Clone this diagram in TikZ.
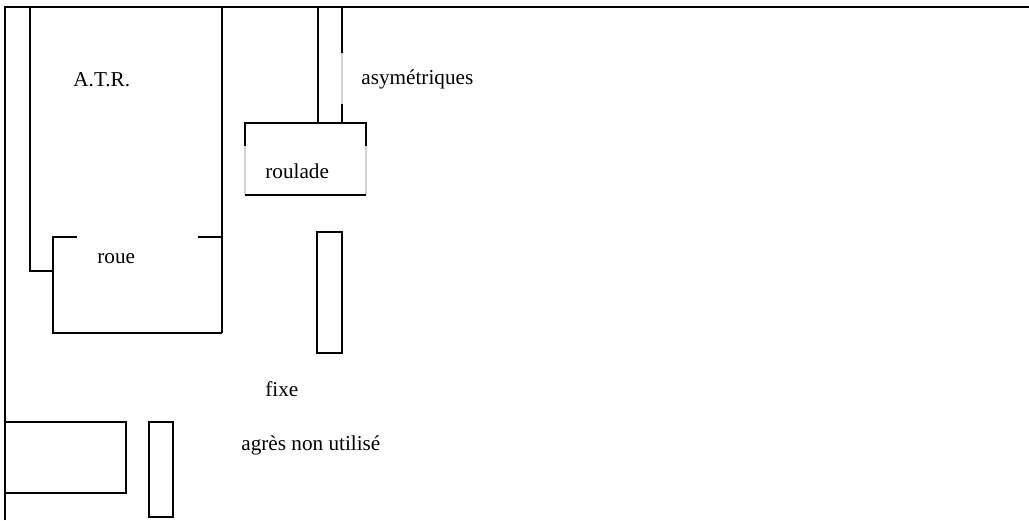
\documentclass[tikz,border=0pt]{standalone}
\usepackage{fontspec}
\setmainfont{Liberation Serif}
\begin{document}
\begin{tikzpicture}[x=0.5pt,y=-0.5pt,
  wall/.style={line width=1pt,draw=black},
  faint/.style={line width=0.6pt,draw=black!18},
  lbl/.style={font=\fontsize{10.6}{12}\selectfont,inner sep=0pt,anchor=west}]
\useasboundingbox (0,0) rectangle (1029,520);
% outer frame
\draw[wall] (5,520) -- (5,7) -- (1029,7);
% A.T.R.
\draw[wall] (30,7) -- (30,271) -- (53,271);
\draw[wall] (222,7) -- (222,333);
% roue
\draw[wall] (77,237) -- (53,237) -- (53,333) -- (222,333);
\draw[wall] (198,237) -- (222,237);
% asymetriques
\draw[wall] (318,7) -- (318,123);
\draw[wall] (342,7) -- (342,53);
\draw[faint] (342,53) -- (342,104);
\draw[wall] (342,104) -- (342,123);
% roulade
\draw[wall] (245,146) -- (245,123) -- (366,123) -- (366,146);
\draw[faint] (245,146) -- (245,195);
\draw[faint] (366,146) -- (366,195);
\draw[wall] (245,195) -- (366,195);
% fixe
\draw[wall] (317,232) rectangle (342,353);
% bottom
\draw[wall] (5,422) rectangle (126,493);
\draw[wall] (149,422) rectangle (173,517);
% labels
\node[lbl] (atr) at (73,80) {A.T.R.};
\node[lbl] (roue) at (97,259) {roue};
\node[lbl] (asym) at (361,79) {asymétriques};
\node[lbl] (roul) at (265,171) {roulade};
\node[lbl] (fixe) at (265,389) {fixe};
\node[lbl] (agres) at (241,445) {agrès non utilisé};
\end{tikzpicture}
\end{document}
